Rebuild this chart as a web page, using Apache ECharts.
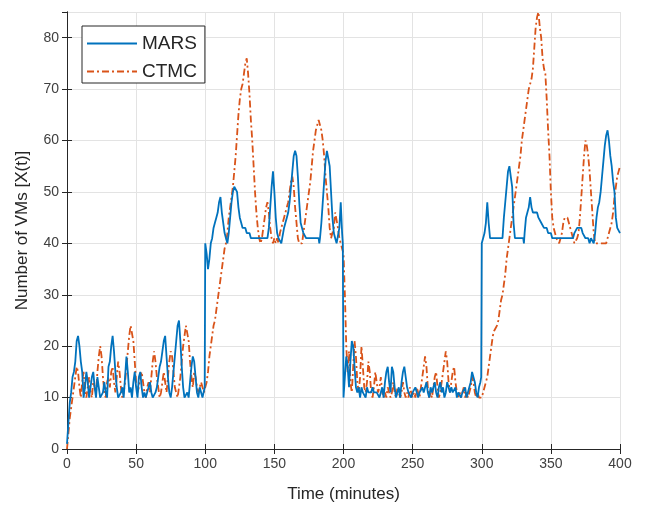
<!DOCTYPE html>
<html>
<head>
<meta charset="utf-8">
<script src="https://cdn.jsdelivr.net/npm/echarts@6/dist/echarts.min.js"></script>
<style>
html,body{margin:0;padding:0;background:#fff;}
#chart{width:647px;height:511px;}
</style>
</head>
<body>
<div id="chart"></div>
<script>
// ---- data (time in minutes, number of VMs) ----
const seriesNames = ['MARS', 'CTMC'];
const xTicks = [0, 50, 100, 150, 200, 250, 300, 350, 400];
const yTicks = [0, 10, 20, 30, 40, 50, 60, 70, 80];

const marsPoints = [
[0,1],[1,5],[2,9],[3,11],[4,14],[5,15],[6,17],[7,21],[8,22],[9,20],[10,17],[11,15],[12,10],[13,12],[14,15],[15,13],[16,10],[17,12],[18,14],[19,15],[20,12],[21,10],[22,14],[23,12],[24,10],[25,10],[26,11],[27,13],[28,11],[29,10],[30,16],[31,17],[32,20],[33,22],[34,19],[35,15],[36,12],[37,10],[38,10],[39,11],[40,12],[41,10],[42,14],[43,18],[44,15],[45,11],[46,12],[47,10],[48,13],[49,15],[50,12],[51,10],[52,14],[53,15],[54,12],[55,10],[56,11],[57,10],[58,10],[59,12],[60,13],[61,11],[62,10],[63,10],[64,11],[65,12],[66,14],[67,16],[68,17],[69,19],[70,21],[71,22],[72,18],[73,14],[74,11],[75,10],[76,12],[77,15],[78,18],[79,21],[80,24],[81,25],[82,21],[83,16],[84,12],[85,10],[86,10],[87,11],[88,10],[89,13],[90,16],[91,18],[92,17],[93,14],[94,11],[95,10],[96,12],[97,11],[98,10],[99,10],[99.6,12],
[100,40],[101,38],[102,35],[103,37],[104,40],[105,41],[106,43],[107,44],[108,45],[109,46],[110,48],[111,49],[112,46],[113,44],[114,42],[115,41],[116,40],[117,42],[118,45],[119,48],[120,50],[121,51],[122,51],[123,50],[124,47],[125,45],[126,44],[127,43],[128,43],[129,43],[130,42],[131,42],[132,42],[133,41],[145,41],[146,43],[147,47],[148,51],[149,54],[150,50],[151,45],[152,42],[153,41],[154,41],[155,40],[156,40],[157,43],[158,44],[159,45],[160,46],[161,48],[162,51],[163,54],[164,57],[165,58],[166,57],[167,53],[168,48],[169,44],[170,43],[171,42],[172,42],[173,41],[182,41],[182.5,40],[183,41],[184,44],[185,48],[186,52],[187,56],[188,58],[189,58],[190,55],[191,50],[192,45],[193,42],[194,41],[195,40],[196,40],[197,43],[198,48],[199,42],[199.5,40],
[200,10],[201,14],[202,18],[203,16],[204,12],[205,17],[206,21],[207,20],[208,16],[209,12],[210,11],[211,12],[212,10],[213,12],[214,11],[215,11],[216,10],[217,12],[218,11],[219,11],[220,11],[221,12],[222,11],[223,11],[224,11],[225,11],[226,10],[227,10],[228,12],[229,10],[230,13],[231,15],[232,16],[233,13],[234,11],[235,16],[236,15],[237,12],[238,10],[239,11],[240,12],[241,10],[242,13],[243,15],[244,16],[245,14],[246,12],[247,11],[248,11],[249,10],[250,11],[251,11],[252,12],[253,11],[254,10],[255,11],[256,11],[257,12],[258,11],[259,11],[260,13],[261,11],[262,10],[263,12],[264,11],[265,11],[266,13],[267,11],[268,10],[269,12],[270,13],[271,11],[272,12],[273,10],[274,11],[275,13],[276,12],[277,11],[278,12],[279,11],[280,11],[281,12],[282,10],[283,11],[284,11],[285,10],[286,11],[287,11],[288,12],[289,10],[290,11],[291,12],[292,13],[293,15],[294,15],[295,13],[296,11],[297,10],[298,12],[299,13],[299.6,14],
[300,40],[301,41],[302,42],[303,44],[304,48],[305,44],[306,41],[315,41],[316,45],[317,48],[318,51],[319,54],[320,55],[321,53],[322,51],[323,44],[324,41],[330,41],[330.5,40],[331,42],[332,45],[333,46],[334,47],[335,49],[336,47],[337,46],[340,46],[341,45],[342,45],[343,44],[344,44],[345,43],[347,43],[348,42],[350,42],[351,41],[366,41],[367,42],[368,42],[369,43],[372,43],[373,42],[374,42],[375,41],[377,41],[378,40],[379,41],[380,41],[381,40],[382,42],[383,45],[384,47],[385,48],[386,50],[387,53],[388,56],[389,59],[390,61],[391,62],[392,60],[393,57],[394,55],[395,52],[396,50],[397,45],[398,43],[399,43],[400,42]
];

const ctmcPoints = [
[0,0],[1,3],[2,6],[3,8],[4,10],[5,12],[6,14],[7,16],[8,15],[9,12],[10,10],[11,13],[12,15],[13,11],[14,10],[15,12],[16,14],[17,11],[18,10],[19,13],[20,12],[21,11],[22,15],[23,18],[24,20],[25,18],[26,14],[27,11],[28,10],[29,13],[30,14],[31,12],[32,15],[33,16],[34,13],[35,11],[36,14],[37,17],[38,15],[39,12],[40,10],[41,11],[42,13],[43,16],[44,19],[45,22],[46,24],[47,24],[48,21],[49,17],[50,13],[51,11],[52,12],[53,14],[54,15],[55,13],[56,11],[57,10],[58,12],[59,13],[60,11],[61,14],[62,17],[63,19],[64,17],[65,14],[66,12],[67,10],[68,11],[69,13],[70,15],[71,13],[72,11],[73,14],[74,17],[75,19],[76,18],[77,15],[78,12],[79,11],[80,10],[81,12],[82,14],[83,17],[84,20],[85,22],[86,24],[87,24],[88,21],[89,17],[90,14],[91,12],[92,15],[93,14],[94,12],[95,11],[96,12],[97,13],[98,12],[99,11],
[100,12],[101,13],[102,15],[103,18],[104,20],[105,22],[106,24],[107,25],[108,27],[109,29],[110,31],[111,33],[112,35],[113,37],[114,39],[115,40],[116,42],[117,45],[118,47],[119,49],[120,51],[121,54],[122,57],[123,61],[124,65],[125,68],[126,70],[127,71],[128,73],[129,75],[130,76],[131,73],[132,69],[133,64],[134,60],[135,55],[136,50],[137,46],[138,43],[139,41],[140,40],[141,41],[142,43],[143,45],[144,47],[145,48],[146,46],[147,43],[148,41],[149,40],[150,41],[151,40],[152,41],[153,40],[154,42],[155,43],[156,44],[157,45],[158,46],[159,47],[160,48],[161,50],[162,52],[163,53],[164,51],[165,47],[166,44],[167,41],[168,40],[170,40],[171,42],[172,44],[173,46],[174,48],[175,50],[176,52],[177,55],[178,58],[179,60],[180,62],[181,63],[182,64],[183,64],[184,62],[185,60],[186,57],[187,53],[188,50],[189,47],[190,43],[191,41],[192,41],[193,43],[194,46],[195,46],[196,43],[197,41],[198,40],[199,40],
[200,38],[201,30],[202,20],[203,15],[204,19],[205,13],[206,11],[207,16],[208,21],[209,18],[210,13],[211,11],[212,14],[213,20],[214,16],[215,12],[216,11],[217,13],[218,17],[219,15],[220,11],[221,10],[222,12],[223,15],[224,13],[225,11],[226,12],[227,14],[228,11],[229,10],[230,11],[231,10],[232,12],[233,11],[234,10],[235,11],[236,13],[237,11],[238,10],[239,12],[240,11],[241,10],[242,11],[243,13],[244,11],[245,10],[246,11],[247,10],[248,12],[249,11],[250,10],[251,11],[252,10],[253,12],[254,11],[255,10],[256,12],[257,14],[258,16],[259,18],[260,16],[261,12],[262,10],[263,11],[264,10],[265,12],[266,14],[267,15],[268,12],[269,10],[270,11],[271,13],[272,15],[273,17],[274,19],[275,17],[276,13],[277,11],[278,13],[279,15],[280,16],[281,13],[282,11],[283,10],[284,11],[285,10],[286,11],[287,12],[288,10],[289,11],[290,10],[291,11],[292,12],[293,14],[294,13],[295,11],[296,10],[297,11],[298,10],[299,10],
[300,10],[301,11],[302,12],[303,12],[304,14],[305,16],[306,18],[307,20],[308,22],[309,23],[310,23],[311,24],[312,25],[313,27],[314,29],[315,30],[316,32],[317,34],[318,37],[319,39],[320,41],[321,43],[322,45],[323,47],[324,49],[325,51],[326,53],[327,55],[328,57],[329,60],[330,62],[331,64],[332,66],[333,68],[334,70],[335,71],[336,72],[337,74],[338,78],[339,82],[340,84],[341,85],[342,82],[343,80],[344,76],[345,74],[346,73],[347,68],[348,62],[349,57],[350,50],[351,45],[352,43],[353,42],[354,41],[355,41],[356,40],[357,40],[358,42],[359,44],[360,45],[361,45],[362,45],[363,44],[364,43],[365,42],[366,41],[367,40],[368,40],[369,41],[370,42],[371,45],[372,49],[373,53],[374,57],[375,60],[376,59],[377,57],[378,54],[379,50],[380,46],[381,42],[382,40],[390,40],[391,41],[392,42],[393,43],[394,44],[395,46],[396,49],[397,51],[398,53],[399,54],[400,55]
];

const colors = ['#0072BD', '#D95319'];
const font = 'Liberation Sans, Arial, Helvetica, sans-serif';

const chart = echarts.init(document.getElementById('chart'), null, {renderer: 'canvas'});

const axisLineStyle = {color: '#262626', width: 1};
const tickStyle = {show: true, inside: true, length: 5, lineStyle: {color: '#262626'}};

chart.setOption({
  animation: false,
  backgroundColor: '#fff',
  grid: {left: 67, right: 27, top: 12, bottom: 62, show: false},
  legend: {
    data: seriesNames,
    orient: 'vertical',
    left: 82,
    top: 26,
    itemWidth: 50,
    itemHeight: 14,
    itemGap: 9,
    padding: [8, 8, 2, 4],
    borderColor: '#262626',
    borderWidth: 1,
    backgroundColor: '#fff',
    itemStyle: {opacity: 0},
    textStyle: {fontFamily: font, fontSize: 19, color: '#262626'}
  },
  xAxis: [{
    type: 'value', min: xTicks[0], max: xTicks[xTicks.length - 1], interval: 50,
    position: 'bottom',
    name: 'Time (minutes)', nameLocation: 'middle', nameGap: 37,
    nameTextStyle: {fontFamily: font, fontSize: 17, color: '#262626'},
    axisLine: {show: true, lineStyle: axisLineStyle},
    axisTick: tickStyle,
    axisLabel: {fontFamily: font, fontSize: 14, color: '#404040', margin: 8},
    splitLine: {show: true, lineStyle: {color: '#e3e3e3', width: 1}}
  }, {
    type: 'value', min: xTicks[0], max: xTicks[xTicks.length - 1], interval: 50,
    position: 'top',
    axisLine: {show: true, lineStyle: axisLineStyle},
    axisTick: tickStyle,
    axisLabel: {show: false},
    splitLine: {show: false}
  }],
  yAxis: [{
    type: 'value', min: yTicks[0], max: 85, interval: 10,
    position: 'left',
    name: 'Number of VMs [X(t)]', nameLocation: 'middle', nameGap: 36,
    nameTextStyle: {fontFamily: font, fontSize: 17, color: '#262626'},
    axisLine: {show: true, lineStyle: axisLineStyle},
    axisTick: tickStyle,
    axisLabel: {fontFamily: font, fontSize: 14, color: '#404040', margin: 8, showMaxLabel: false},
    splitLine: {show: true, lineStyle: {color: '#e3e3e3', width: 1}}
  }, {
    type: 'value', min: yTicks[0], max: 85, interval: 10,
    position: 'right',
    axisLine: {show: true, lineStyle: axisLineStyle},
    axisTick: tickStyle,
    axisLabel: {show: false},
    splitLine: {show: false}
  }],
  series: [{
    name: seriesNames[0], type: 'line', data: marsPoints,
    showSymbol: false, symbol: 'none',
    lineStyle: {color: colors[0], width: 1.8},
    itemStyle: {color: colors[0]},
    z: 3
  }, {
    name: seriesNames[1], type: 'line', data: ctmcPoints,
    showSymbol: false, symbol: 'none',
    lineStyle: {color: colors[1], width: 1.8, type: [7, 3, 2, 3]},
    itemStyle: {color: colors[1]},
    z: 2
  }]
});
</script>
</body>
</html>
